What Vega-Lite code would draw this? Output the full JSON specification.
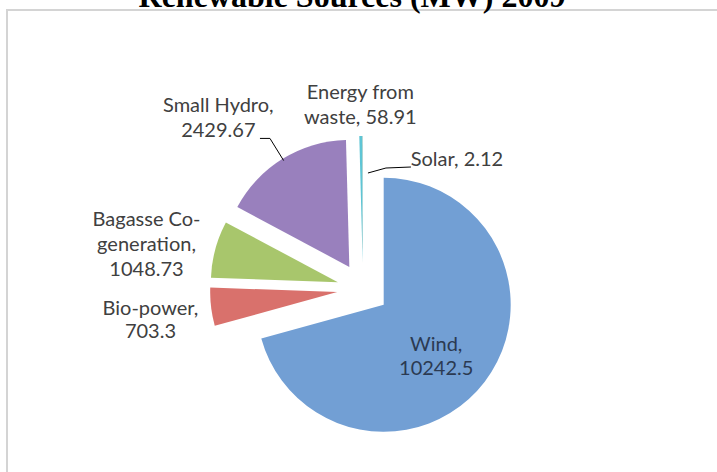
{
  "$schema": "https://vega.github.io/schema/vega-lite/v6.json",
  "width": 712,
  "height": 558,
  "autosize": {"type": "none"},
  "padding": {"left": 7, "top": 10, "right": -2, "bottom": -96},
  "background": "white",
  "view": {"stroke": "#d4d4d4", "strokeWidth": 2},
  "title": {
    "text": "Renewable Sources (MW) 2009",
    "font": "Liberation Serif",
    "fontSize": 32,
    "fontWeight": "bold",
    "color": "#000000",
    "anchor": "middle",
    "baseline": "bottom",
    "orient": "top",
    "frame": "group",
    "offset": 0,
    "dy": 36,
    "dx": -11
  },
  "data": {
    "values": [
      {"name": "Wind", "value": 10242.5, "label": "Wind,\n10242.5"},
      {"name": "Bio-power", "value": 703.3, "label": "Bio-power,\n703.3"},
      {"name": "Bagasse Co-generation", "value": 1048.73, "label": "Bagasse Co-\ngeneration,\n1048.73"},
      {"name": "Small Hydro", "value": 2429.67, "label": "Small Hydro,\n2429.67"},
      {"name": "Energy from waste", "value": 58.91, "label": "Energy from\nwaste, 58.91"},
      {"name": "Solar", "value": 2.12, "label": "Solar, 2.12"}
    ]
  },
  "transform": [{"window": [{"op": "row_number", "as": "idx"}]}],
  "layer": [
    {
      "mark": {
        "type": "arc",
        "radius": 127,
        "xOffset": {"expr": "26*sin(scale('theta',(datum.value_start+datum.value_end)/2))"},
        "yOffset": {"expr": "-26*cos(scale('theta',(datum.value_start+datum.value_end)/2))"}
      },
      "encoding": {
        "theta": {"field": "value", "type": "quantitative", "stack": true},
        "order": {"field": "idx", "type": "quantitative"},
        "color": {
          "field": "name",
          "type": "nominal",
          "legend": null,
          "scale": {
            "domain": ["Wind", "Bio-power", "Bagasse Co-generation", "Small Hydro", "Energy from waste", "Solar"],
            "range": ["#729fd4", "#d9716c", "#a8c66c", "#9980bd", "#5ec5d5", "#f79646"]
          }
        }
      }
    },
    {
      "mark": {"type": "text", "radius": 92, "font": "Lato", "fontSize": 20, "lineHeight": 24, "lineBreak": "\n", "color": "#2b3a52", "align": "center", "baseline": "middle"},
      "encoding": {
        "theta": {"field": "value", "type": "quantitative", "stack": true},
        "order": {"field": "idx", "type": "quantitative"},
        "detail": {"field": "name"},
        "text": {"condition": {"test": "datum.name === 'Wind'", "field": "label"}, "value": ""}
      }
    },
    {
      "mark": {"type": "text", "radius": 212, "dx": -2, "dy": -5, "font": "Lato", "fontSize": 20, "lineHeight": 23, "lineBreak": "\n", "color": "#404040", "align": "center", "baseline": "middle"},
      "encoding": {
        "theta": {"field": "value", "type": "quantitative", "stack": true},
        "order": {"field": "idx", "type": "quantitative"},
        "detail": {"field": "name"},
        "text": {"condition": {"test": "datum.name === 'Bio-power'", "field": "label"}, "value": ""}
      }
    },
    {
      "mark": {"type": "text", "radius": 219, "dx": -5, "dy": -12, "font": "Lato", "fontSize": 20, "lineHeight": 25, "lineBreak": "\n", "color": "#404040", "align": "center", "baseline": "middle"},
      "encoding": {
        "theta": {"field": "value", "type": "quantitative", "stack": true},
        "order": {"field": "idx", "type": "quantitative"},
        "detail": {"field": "name"},
        "text": {"condition": {"test": "datum.name === 'Bagasse Co-generation'", "field": "label"}, "value": ""}
      }
    },
    {
      "mark": {"type": "text", "radius": 222, "dx": -28, "dy": 6, "font": "Lato", "fontSize": 20, "lineHeight": 25, "lineBreak": "\n", "color": "#404040", "align": "center", "baseline": "middle"},
      "encoding": {
        "theta": {"field": "value", "type": "quantitative", "stack": true},
        "order": {"field": "idx", "type": "quantitative"},
        "detail": {"field": "name"},
        "text": {"condition": {"test": "datum.name === 'Small Hydro'", "field": "label"}, "value": ""}
      }
    },
    {
      "mark": {"type": "text", "radius": 196, "font": "Lato", "fontSize": 20, "lineHeight": 25, "lineBreak": "\n", "color": "#404040", "align": "center", "baseline": "middle"},
      "encoding": {
        "theta": {"field": "value", "type": "quantitative", "stack": true},
        "order": {"field": "idx", "type": "quantitative"},
        "detail": {"field": "name"},
        "text": {"condition": {"test": "datum.name === 'Energy from waste'", "field": "label"}, "value": ""}
      }
    },
    {
      "mark": {"type": "text", "radius": 129, "dx": 94, "font": "Lato", "fontSize": 20, "lineHeight": 25, "lineBreak": "\n", "color": "#404040", "align": "center", "baseline": "middle"},
      "encoding": {
        "theta": {"field": "value", "type": "quantitative", "stack": true},
        "order": {"field": "idx", "type": "quantitative"},
        "detail": {"field": "name"},
        "text": {"condition": {"test": "datum.name === 'Solar'", "field": "label"}, "value": ""}
      }
    },
    {
      "transform": [
        {"stack": "value", "groupby": [], "sort": [{"field": "idx", "order": "ascending"}], "as": ["s0", "s1"]},
        {"filter": "datum.name === 'Small Hydro'"}
      ],
      "mark": {"type": "rule", "color": "#000000", "strokeWidth": 1},
      "encoding": {
        "x": {"value": {"expr": "width/2 + 151*sin(scale('theta',(datum.s0+datum.s1)/2))"}},
        "y": {"value": {"expr": "height/2 - 151*cos(scale('theta',(datum.s0+datum.s1)/2))"}},
        "x2": {"value": {"expr": "width/2 + 177*sin(scale('theta',(datum.s0+datum.s1)/2))"}},
        "y2": {"value": {"expr": "height/2 - 177*cos(scale('theta',(datum.s0+datum.s1)/2))"}}
      }
    },
    {
      "transform": [
        {"stack": "value", "groupby": [], "sort": [{"field": "idx", "order": "ascending"}], "as": ["s0", "s1"]},
        {"filter": "datum.name === 'Small Hydro'"}
      ],
      "mark": {"type": "rule", "color": "#000000", "strokeWidth": 1},
      "encoding": {
        "x": {"value": {"expr": "width/2 + 177*sin(scale('theta',(datum.s0+datum.s1)/2))"}},
        "y": {"value": {"expr": "height/2 - 177*cos(scale('theta',(datum.s0+datum.s1)/2))"}},
        "x2": {"value": {"expr": "width/2 + 177*sin(scale('theta',(datum.s0+datum.s1)/2)) - 10"}},
        "y2": {"value": {"expr": "height/2 - 177*cos(scale('theta',(datum.s0+datum.s1)/2))"}}
      }
    },
    {
      "transform": [
        {"stack": "value", "groupby": [], "sort": [{"field": "idx", "order": "ascending"}], "as": ["s0", "s1"]},
        {"filter": "datum.name === 'Solar'"}
      ],
      "mark": {"type": "rule", "color": "#000000", "strokeWidth": 1},
      "encoding": {
        "x": {"value": {"expr": "width/2 + 116*sin(scale('theta',(datum.s0+datum.s1)/2)) + 5"}},
        "y": {"value": {"expr": "height/2 - 116*cos(scale('theta',(datum.s0+datum.s1)/2))"}},
        "x2": {"value": {"expr": "width/2 + 121*sin(scale('theta',(datum.s0+datum.s1)/2)) + 23"}},
        "y2": {"value": {"expr": "height/2 - 121*cos(scale('theta',(datum.s0+datum.s1)/2))"}}
      }
    },
    {
      "transform": [
        {"stack": "value", "groupby": [], "sort": [{"field": "idx", "order": "ascending"}], "as": ["s0", "s1"]},
        {"filter": "datum.name === 'Solar'"}
      ],
      "mark": {"type": "rule", "color": "#000000", "strokeWidth": 1},
      "encoding": {
        "x": {"value": {"expr": "width/2 + 121*sin(scale('theta',(datum.s0+datum.s1)/2)) + 23"}},
        "y": {"value": {"expr": "height/2 - 121*cos(scale('theta',(datum.s0+datum.s1)/2))"}},
        "x2": {"value": {"expr": "width/2 + 122*sin(scale('theta',(datum.s0+datum.s1)/2)) + 48"}},
        "y2": {"value": {"expr": "height/2 - 122*cos(scale('theta',(datum.s0+datum.s1)/2))"}}
      }
    }
  ]
}
